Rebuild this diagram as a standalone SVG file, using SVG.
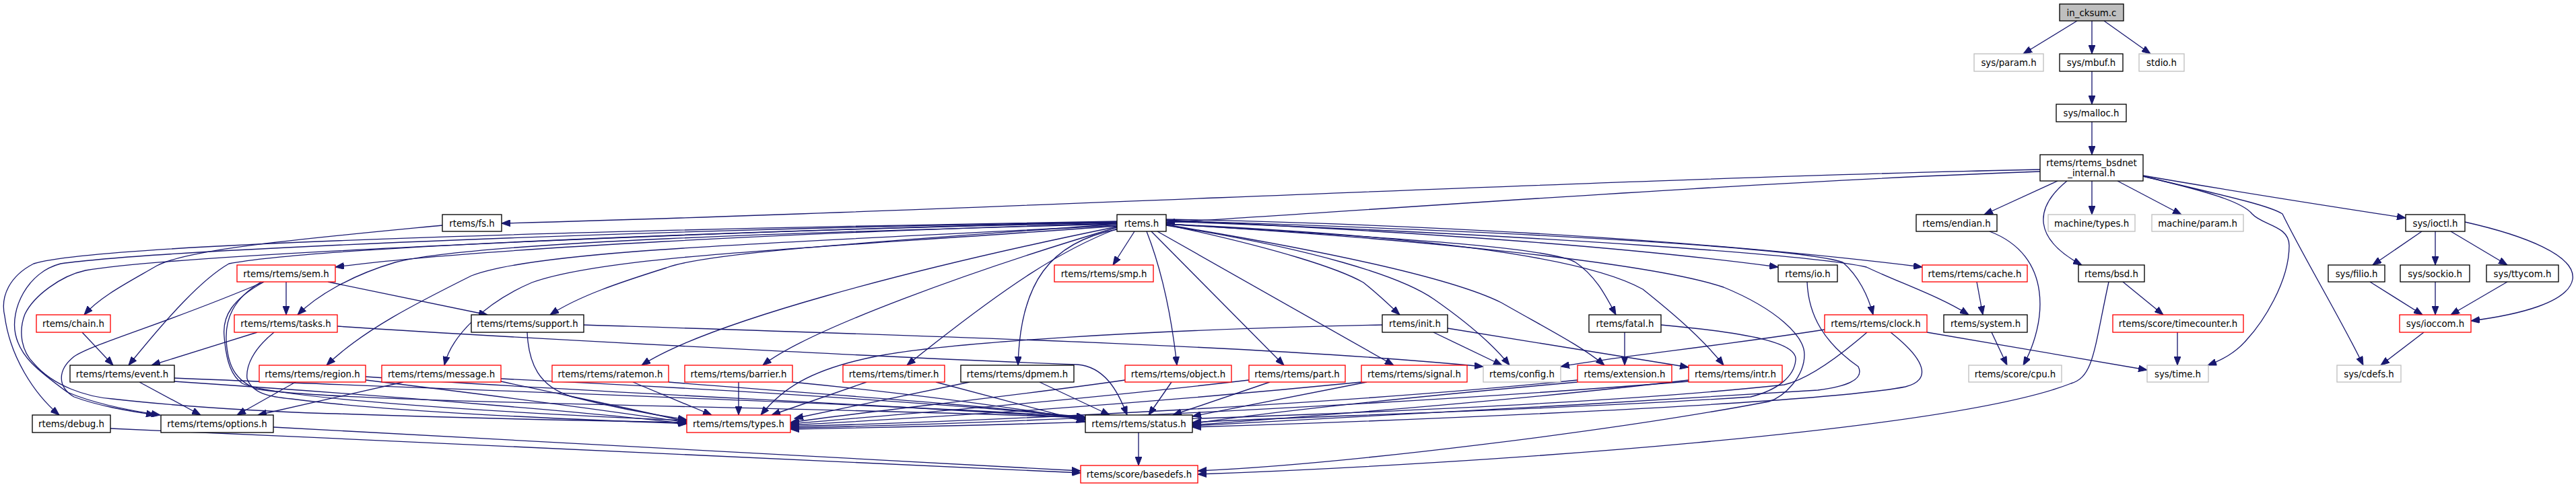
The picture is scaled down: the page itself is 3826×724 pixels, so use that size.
<svg xmlns="http://www.w3.org/2000/svg" width="3826" height="724" viewBox="0 0 3826 724">
<style>
text{font-family:"DejaVu Sans","Liberation Sans",sans-serif;font-size:13.33px;fill:#000;text-anchor:middle}
.n rect{fill:#fff;stroke:#000;stroke-width:1.33}
.r rect{fill:#fff;stroke:#ff0000;stroke-width:1.33}
.g rect{fill:#fff;stroke:#bfbfbf;stroke-width:1.33}
.root rect{fill:#bfbfbf;stroke:#000;stroke-width:1.33}
#edges path{fill:none;stroke:#191970;stroke-width:1.33;marker-end:url(#arr)}
</style>
<defs>
<marker id="arr" markerUnits="userSpaceOnUse" viewBox="0 0 14 10" markerWidth="14" markerHeight="10" refX="13" refY="5" orient="auto">
<path d="M0,0 L13,5 L0,10 z" fill="#191970" stroke="#191970" stroke-width="1"/>
</marker>
</defs>
<rect width="3826" height="724" fill="#fff"/>
<g id="edges">
<path d="M3085,31 L3005,80"/>
<path d="M3107,31 L3107,80"/>
<path d="M3125,31 L3194,80"/>
<path d="M3107,106 L3107,155"/>
<path d="M3107,181 L3107,230"/>
<path d="M3030,252 C2400,265 1400,315 745,332"/>
<path d="M3030,255 C2600,270 2000,315 1732,331"/>
<path d="M3056,269 L2947,319"/>
<path d="M3107,269 L3107,319"/>
<path d="M3145,269 L3240,319"/>
<path d="M3070,269 C3020,310 3020,355 3092,394"/>
<path d="M3183,261 C3350,290 3450,305 3573,324"/>
<path d="M3183,262 C3280,285 3330,300 3345,318 C3360,335 3400,335 3400,365 C3400,420 3360,480 3337,505 C3320,525 3300,535 3279,543"/>
<path d="M3183,262 C3300,290 3370,305 3390,318 C3420,380 3480,480 3510,543"/>
<path d="M2955,344 C3050,380 3040,480 3005,543"/>
<path d="M3153,419 L3213,468"/>
<path d="M3132,419 C3110,520 3110,560 3076,570 C2900,640 2200,690 1779,705"/>
<path d="M3234,494 L3234,543"/>
<path d="M3597,344 L3524,394"/>
<path d="M3617,344 L3617,394"/>
<path d="M3640,344 L3724,394"/>
<path d="M3661,330 C3750,350 3826,380 3821,415 C3815,450 3740,468 3670,477"/>
<path d="M3520,419 L3598,468"/>
<path d="M3617,419 L3617,468"/>
<path d="M3724,419 L3640,468"/>
<path d="M3600,494 L3536,543"/>
<path d="M2936,419 L2945,468"/>
<path d="M2958,494 L2981,543"/>
<path d="M2862,494 L3189,550"/>
<path d="M2710,490 C2550,515 2400,530 2318,545"/>
<path d="M1732,327 C2100,345 2400,365 2641,397"/>
<path d="M1732,326 C2200,335 2600,365 2855,397"/>
<path d="M1732,328 C2300,345 2680,370 2737,390 C2760,410 2775,440 2782,468"/>
<path d="M1732,329 C2300,350 2700,380 2772,397 C2820,420 2880,440 2924,468"/>
<path d="M1732,333 C2100,350 2350,380 2440,430 C2490,470 2530,505 2560,543"/>
<path d="M1732,333 C2000,350 2300,365 2340,390 C2370,410 2385,440 2400,468"/>
<path d="M1732,334 C1950,370 2150,410 2230,450 C2300,490 2350,515 2383,543"/>
<path d="M1732,335 C1950,370 2080,410 2130,445 C2180,480 2220,515 2242,543"/>
<path d="M1732,334 C1900,370 1990,400 2025,420 C2050,440 2065,455 2079,468"/>
<path d="M1719,344 L2070,543"/>
<path d="M1710,344 L1907,543"/>
<path d="M1703,344 C1725,400 1740,470 1748,543"/>
<path d="M1685,344 L1653,394"/>
<path d="M1732,333 C2100,355 2450,390 2560,427 C2640,460 2680,500 2680,527 C2680,560 2650,590 2627,597 C2400,640 2000,690 1779,700"/>
<path d="M1659,341 C1560,360 1515,420 1512,543"/>
<path d="M1659,340 C1580,370 1500,420 1347,543"/>
<path d="M1659,338 C1450,400 1200,490 1133,543"/>
<path d="M1659,337 C1350,400 1050,480 953,543"/>
<path d="M1659,333 C1300,360 1050,375 990,398 C920,420 860,440 817,468"/>
<path d="M1659,336 C1200,370 900,380 790,420 C720,450 670,500 660,543"/>
<path d="M1659,335 C1200,360 800,370 700,410 C620,450 540,490 485,543"/>
<path d="M1659,333 C1200,345 700,360 587,390 C520,410 470,440 442,468"/>
<path d="M1659,332 C1200,345 700,370 498,397"/>
<path d="M1659,331 C1000,345 450,370 340,392 C300,415 250,470 191,543"/>
<path d="M1659,330 C1000,340 250,370 90,392 C40,405 15,460 23,497 C30,530 55,550 100,583 C140,600 190,610 238,617"/>
<path d="M1659,329 C1000,340 150,360 50,392 C15,410 0,440 7,470 C15,530 50,585 88,617"/>
<path d="M1659,330 C1000,345 250,380 127,402 C90,410 50,440 37,467 C28,490 30,520 50,540 C80,575 130,590 167,593 C300,608 450,614 500,615 C700,622 900,626 1020,628"/>
<path d="M392,419 C250,480 140,510 110,530 C85,550 85,575 110,590 C150,605 200,612 230,617"/>
<path d="M392,419 C345,445 330,470 333,500 C336,540 345,560 360,570 C400,590 700,612 1020,625"/>
<path d="M388,419 C345,445 335,475 336,505 C338,545 350,565 380,578 C500,600 1200,604 1612,621"/>
<path d="M425,419 L425,468"/>
<path d="M487,419 L724,468"/>
<path d="M382,494 L225,543"/>
<path d="M407,494 C375,520 365,545 367,563 C375,585 400,590 433,593 C600,615 900,625 1020,630"/>
<path d="M501,485 C800,505 1400,535 1600,542 C1640,545 1660,580 1674,617"/>
<path d="M867,483 C1400,500 1900,515 2203,545"/>
<path d="M783,494 C785,540 800,575 850,590 C920,608 980,618 1020,624"/>
<path d="M122,494 L168,543"/>
<path d="M657,335 C450,355 280,370 233,395 C190,420 150,440 125,468"/>
<path d="M207,568 L298,617"/>
<path d="M258,567 C600,590 900,615 1020,630"/>
<path d="M258,562 C700,580 1300,600 1612,620"/>
<path d="M439,568 L352,617"/>
<path d="M543,565 C750,590 900,610 1020,628"/>
<path d="M543,560 C900,585 1300,600 1612,622"/>
<path d="M599,568 L383,617"/>
<path d="M744,567 C850,590 950,610 1020,627"/>
<path d="M744,563 C1100,580 1400,600 1612,620"/>
<path d="M940,568 L1057,617"/>
<path d="M993,568 C1200,585 1450,600 1612,622"/>
<path d="M1097,568 L1097,617"/>
<path d="M1177,568 C1350,585 1500,605 1612,624"/>
<path d="M1287,568 L1146,617"/>
<path d="M1390,568 L1612,627"/>
<path d="M1440,568 L1180,622"/>
<path d="M1544,568 L1648,617"/>
<path d="M1671,565 C1500,590 1300,610 1174,628"/>
<path d="M1740,568 L1706,617"/>
<path d="M1855,565 C1600,595 1350,615 1174,630"/>
<path d="M1886,568 L1742,617"/>
<path d="M2022,568 C1700,600 1400,620 1174,632"/>
<path d="M2030,568 L1771,619"/>
<path d="M2053,483 C1700,490 1400,510 1300,530 C1200,550 1160,580 1130,617"/>
<path d="M2129,494 L2231,543"/>
<path d="M2150,488 L2508,546"/>
<path d="M2413,494 L2413,543"/>
<path d="M2467,483 C2600,495 2670,510 2667,535 C2665,560 2640,580 2600,590 C2300,610 1900,620 1771,628"/>
<path d="M2343,565 C2000,600 1500,625 1174,634"/>
<path d="M2343,568 C2100,590 1900,610 1771,630"/>
<path d="M2508,567 C2100,600 1500,630 1174,636"/>
<path d="M2508,565 C2300,590 2000,615 1771,632"/>
<path d="M2684,419 C2686,470 2710,510 2760,545 C2770,565 2740,575 2700,580 C2400,600 2000,620 1771,633"/>
<path d="M2773,494 C2720,540 2680,565 2650,572 C2300,610 1600,630 1174,638"/>
<path d="M2808,494 C2860,535 2870,565 2830,575 C2700,600 2100,625 1771,635"/>
<path d="M1691,643 L1691,692"/>
<path d="M164,637 C700,660 1300,690 1605,703"/>
<path d="M406,635 C900,660 1300,685 1605,700"/>
</g>
<g id="n_in_cksum" class="root"><rect x="3059" y="6" width="95" height="25"/><text x="3106.5" y="23.5">in_cksum.c</text></g>
<g id="n_sys_param" class="g"><rect x="2932" y="80" width="103" height="26"/><text x="2983.5" y="97.5">sys/param.h</text></g>
<g id="n_sys_mbuf" class="n"><rect x="3059" y="80" width="94" height="26"/><text x="3106" y="97.5">sys/mbuf.h</text></g>
<g id="n_stdio" class="g"><rect x="3177" y="80" width="67" height="26"/><text x="3210.5" y="97.5">stdio.h</text></g>
<g id="n_sys_malloc" class="n"><rect x="3054" y="155" width="104" height="26"/><text x="3106" y="172.5">sys/malloc.h</text></g>
<g id="n_bsdnet" class="n"><rect x="3030" y="230" width="153" height="39"/><text x="3106.5" y="246.5">rtems/rtems_bsdnet</text><text x="3106.5" y="261.5">_internal.h</text></g>
<g id="n_fs" class="n"><rect x="657" y="319" width="88" height="25"/><text x="701" y="336.5">rtems/fs.h</text></g>
<g id="n_rtems" class="n"><rect x="1659" y="319" width="73" height="25"/><text x="1695.5" y="336.5">rtems.h</text></g>
<g id="n_endian" class="n"><rect x="2846" y="319" width="120" height="25"/><text x="2906" y="336.5">rtems/endian.h</text></g>
<g id="n_machine_types" class="g"><rect x="3042" y="319" width="129" height="25"/><text x="3106.5" y="336.5">machine/types.h</text></g>
<g id="n_machine_param" class="g"><rect x="3196" y="319" width="136" height="25"/><text x="3264" y="336.5">machine/param.h</text></g>
<g id="n_sys_ioctl" class="n"><rect x="3573" y="319" width="88" height="25"/><text x="3617" y="336.5">sys/ioctl.h</text></g>
<g id="n_sem" class="r"><rect x="352" y="394" width="146" height="25"/><text x="425" y="411.5">rtems/rtems/sem.h</text></g>
<g id="n_smp" class="r"><rect x="1566" y="394" width="147" height="25"/><text x="1639.5" y="411.5">rtems/rtems/smp.h</text></g>
<g id="n_io" class="n"><rect x="2641" y="394" width="88" height="25"/><text x="2685" y="411.5">rtems/io.h</text></g>
<g id="n_cache" class="r"><rect x="2855" y="394" width="156" height="25"/><text x="2933" y="411.5">rtems/rtems/cache.h</text></g>
<g id="n_bsd" class="n"><rect x="3087" y="394" width="98" height="25"/><text x="3136" y="411.5">rtems/bsd.h</text></g>
<g id="n_sys_filio" class="n"><rect x="3458" y="394" width="84" height="25"/><text x="3500" y="411.5">sys/filio.h</text></g>
<g id="n_sys_sockio" class="n"><rect x="3565" y="394" width="103" height="25"/><text x="3616.5" y="411.5">sys/sockio.h</text></g>
<g id="n_sys_ttycom" class="n"><rect x="3693" y="394" width="107" height="25"/><text x="3746.5" y="411.5">sys/ttycom.h</text></g>
<g id="n_chain" class="r"><rect x="54" y="468" width="110" height="26"/><text x="109" y="485.5">rtems/chain.h</text></g>
<g id="n_tasks" class="r"><rect x="348" y="468" width="153" height="26"/><text x="424.5" y="485.5">rtems/rtems/tasks.h</text></g>
<g id="n_support" class="n"><rect x="700" y="468" width="167" height="26"/><text x="783.5" y="485.5">rtems/rtems/support.h</text></g>
<g id="n_init" class="n"><rect x="2053" y="468" width="97" height="26"/><text x="2101.5" y="485.5">rtems/init.h</text></g>
<g id="n_fatal" class="n"><rect x="2360" y="468" width="107" height="26"/><text x="2413.5" y="485.5">rtems/fatal.h</text></g>
<g id="n_clock" class="r"><rect x="2710" y="468" width="152" height="26"/><text x="2786" y="485.5">rtems/rtems/clock.h</text></g>
<g id="n_system" class="n"><rect x="2887" y="468" width="124" height="26"/><text x="2949" y="485.5">rtems/system.h</text></g>
<g id="n_timecounter" class="r"><rect x="3138" y="468" width="194" height="26"/><text x="3235" y="485.5">rtems/score/timecounter.h</text></g>
<g id="n_sys_ioccom" class="r"><rect x="3564" y="468" width="106" height="26"/><text x="3617" y="485.5">sys/ioccom.h</text></g>
<g id="n_event" class="n"><rect x="104" y="543" width="155" height="25"/><text x="181.5" y="560.5">rtems/rtems/event.h</text></g>
<g id="n_region" class="r"><rect x="385" y="543" width="158" height="25"/><text x="464" y="560.5">rtems/rtems/region.h</text></g>
<g id="n_message" class="r"><rect x="567" y="543" width="177" height="25"/><text x="655.5" y="560.5">rtems/rtems/message.h</text></g>
<g id="n_ratemon" class="r"><rect x="820" y="543" width="173" height="25"/><text x="906.5" y="560.5">rtems/rtems/ratemon.h</text></g>
<g id="n_barrier" class="r"><rect x="1017" y="543" width="160" height="25"/><text x="1097" y="560.5">rtems/rtems/barrier.h</text></g>
<g id="n_timer" class="r"><rect x="1252" y="543" width="151" height="25"/><text x="1327.5" y="560.5">rtems/rtems/timer.h</text></g>
<g id="n_dpmem" class="n"><rect x="1427" y="543" width="168" height="25"/><text x="1511" y="560.5">rtems/rtems/dpmem.h</text></g>
<g id="n_object" class="r"><rect x="1671" y="543" width="158" height="25"/><text x="1750" y="560.5">rtems/rtems/object.h</text></g>
<g id="n_part" class="r"><rect x="1855" y="543" width="143" height="25"/><text x="1926.5" y="560.5">rtems/rtems/part.h</text></g>
<g id="n_signal" class="r"><rect x="2022" y="543" width="157" height="25"/><text x="2100.5" y="560.5">rtems/rtems/signal.h</text></g>
<g id="n_config" class="g"><rect x="2203" y="543" width="115" height="25"/><text x="2260.5" y="560.5">rtems/config.h</text></g>
<g id="n_extension" class="r"><rect x="2343" y="543" width="140" height="25"/><text x="2413" y="560.5">rtems/extension.h</text></g>
<g id="n_intr" class="r"><rect x="2508" y="543" width="139" height="25"/><text x="2577.5" y="560.5">rtems/rtems/intr.h</text></g>
<g id="n_cpu" class="g"><rect x="2924" y="543" width="138" height="25"/><text x="2993" y="560.5">rtems/score/cpu.h</text></g>
<g id="n_sys_time" class="g"><rect x="3189" y="543" width="91" height="25"/><text x="3234.5" y="560.5">sys/time.h</text></g>
<g id="n_sys_cdefs" class="g"><rect x="3471" y="543" width="95" height="25"/><text x="3518.5" y="560.5">sys/cdefs.h</text></g>
<g id="n_debug" class="n"><rect x="48" y="617" width="116" height="26"/><text x="106" y="634.5">rtems/debug.h</text></g>
<g id="n_options" class="n"><rect x="239" y="617" width="167" height="26"/><text x="322.5" y="634.5">rtems/rtems/options.h</text></g>
<g id="n_types" class="r"><rect x="1020" y="617" width="154" height="26"/><text x="1097" y="634.5">rtems/rtems/types.h</text></g>
<g id="n_status" class="n"><rect x="1612" y="617" width="159" height="26"/><text x="1691.5" y="634.5">rtems/rtems/status.h</text></g>
<g id="n_basedefs" class="r"><rect x="1605" y="692" width="174" height="26"/><text x="1692" y="709.5">rtems/score/basedefs.h</text></g>
</svg>
